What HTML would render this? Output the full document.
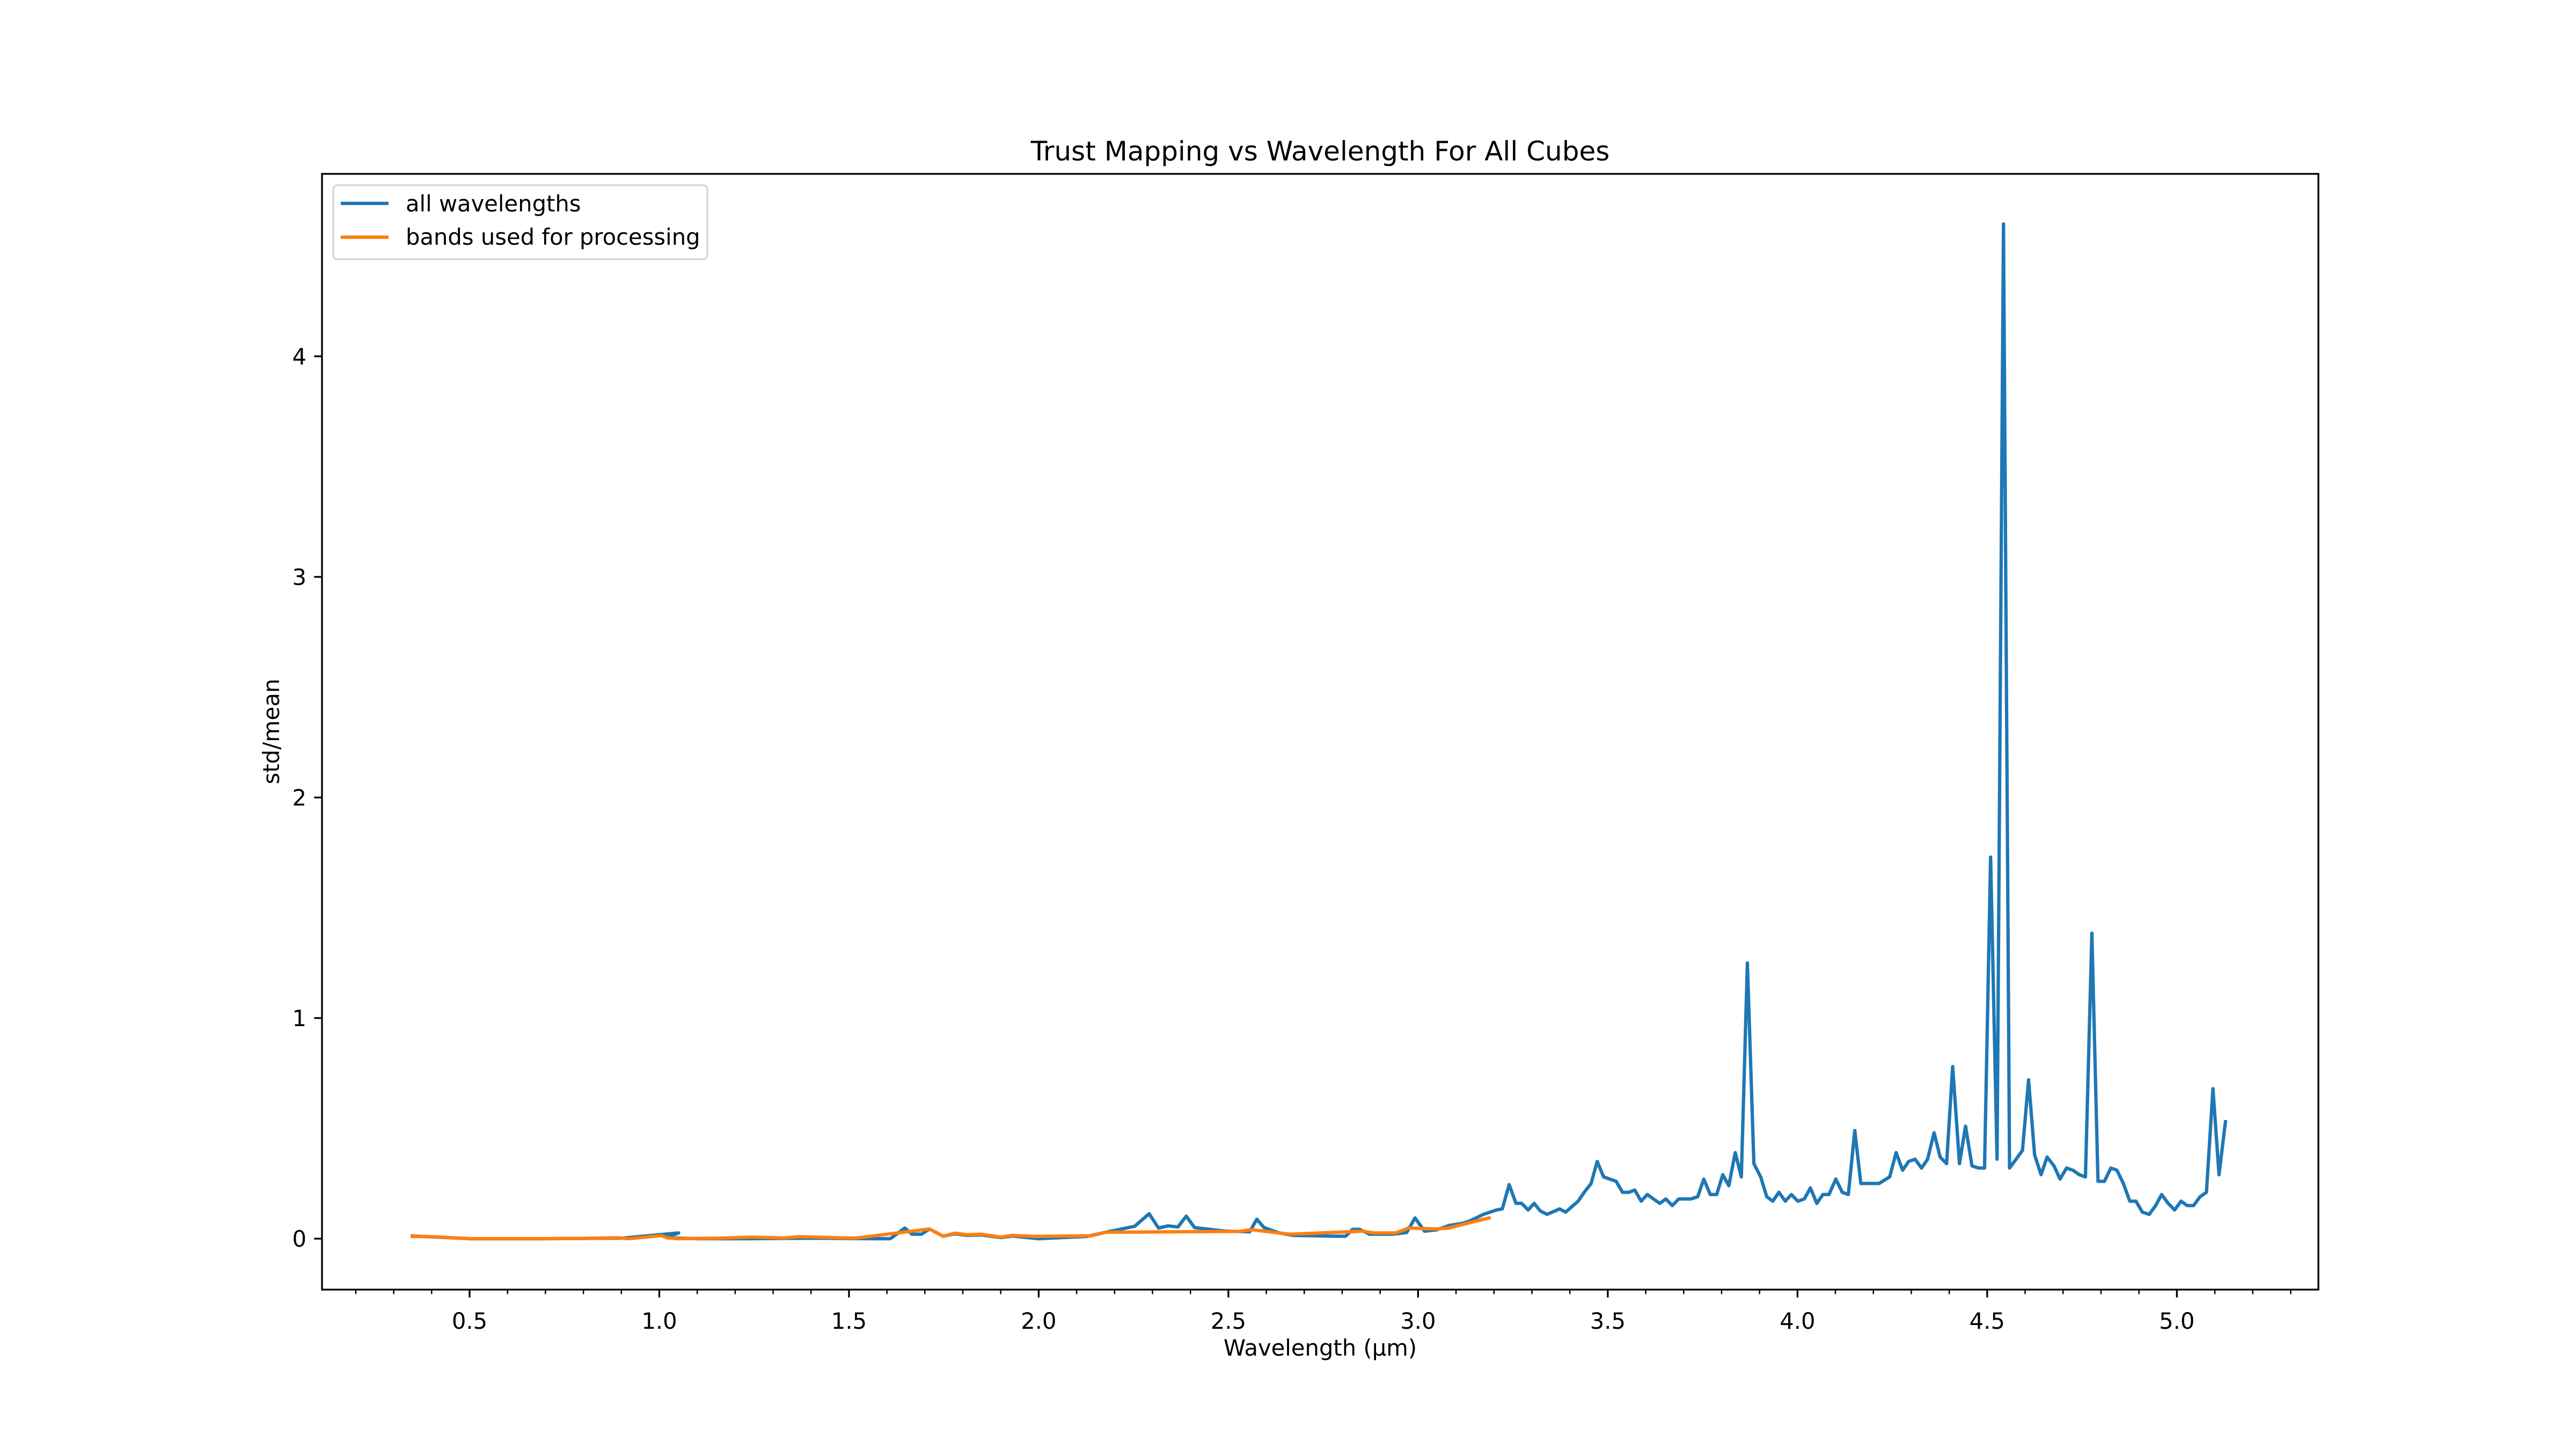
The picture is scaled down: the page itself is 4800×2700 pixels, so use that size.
<!DOCTYPE html>
<html>
<head>
<meta charset="utf-8">
<style>
html,body{margin:0;padding:0;background:#fff;}
svg{display:block;}
text{font-family:"DejaVu Sans","Liberation Sans",sans-serif;fill:#000;}
</style>
</head>
<body>
<svg id="chart" width="4800" height="2700" viewBox="0 0 4800 2700" xmlns="http://www.w3.org/2000/svg">
  <rect x="0" y="0" width="4800" height="2700" fill="#ffffff"/>
  <text x="2460" y="299" font-size="50" text-anchor="middle">Trust Mapping vs Wavelength For All Cubes</text>
  <g id="ticks"></g>
  <g id="series"></g>
  <rect x="600" y="324" width="3720" height="2079" fill="none" stroke="#000" stroke-width="3.3"/>
  <text x="2460" y="2526" font-size="41.7" text-anchor="middle">Wavelength (μm)</text>
  <text x="520" y="1363" font-size="41.7" text-anchor="middle" transform="rotate(-90 520 1363)">std/mean</text>
  <g>
    <rect x="621" y="345" width="697" height="138" rx="8" fill="#fff" fill-opacity="0.8" stroke="#d6d6d6" stroke-width="3.3"/>
    <line x1="635" y1="379" x2="724" y2="379" stroke="#1f77b4" stroke-width="6.25"/>
    <text x="756" y="394" font-size="41.7">all wavelengths</text>
    <line x1="635" y1="442" x2="724" y2="442" stroke="#ff7f0e" stroke-width="6.25"/>
    <text x="756" y="456" font-size="41.7">bands used for processing</text>
  </g>
</svg>
<script>
const xMajorTicks = [0.5,1.0,1.5,2.0,2.5,3.0,3.5,4.0,4.5,5.0];
const xMajorLabels = ["0.5","1.0","1.5","2.0","2.5","3.0","3.5","4.0","4.5","5.0"];
const yTicks = [0,1,2,3,4];
const yTickLabels = ["0","1","2","3","4"];

const blueWavelengths = [0.349,0.40,0.45,0.501,0.60,0.70,0.80,0.90,1.051,1.02,1.10,1.243,1.40,1.55,1.609,1.647,1.666,1.691,1.712,1.748,1.779,1.811,1.849,1.90,1.931,2.00,2.127,2.177,2.253,2.291,2.316,2.341,2.367,2.389,2.411,2.493,2.556,2.575,2.594,2.632,2.67,2.783,2.809,2.827,2.846,2.872,2.935,2.97,2.992,3.017,3.049,
3.082,3.118,3.136,3.172,3.207,3.222,3.240,3.258,3.273,3.290,3.306,3.322,3.340,3.373,3.389,3.406,3.422,3.438,3.456,3.472,3.489,3.522,3.539,3.555,3.571,3.588,3.604,3.637,3.653,3.670,3.687,3.719,3.737,3.753,3.770,3.787,3.803,3.819,3.836,3.852,3.868,3.885,3.903,3.919,3.935,3.951,3.968,3.984,4.001,4.018,4.034,4.051,4.067,4.083,4.101,4.118,4.134,4.151,4.167,4.183,4.199,
4.215,4.243,4.260,4.277,4.293,4.310,4.327,4.343,4.360,4.376,4.393,4.409,4.427,4.443,4.460,4.477,4.493,4.509,4.526,4.543,4.559,4.576,4.593,4.609,4.625,4.642,4.658,4.676,4.692,4.709,4.726,4.743,4.759,4.776,4.792,4.809,4.826,4.842,4.859,4.876,4.892,4.909,4.927,4.944,4.960,4.977,4.994,5.011,5.027,5.044,5.061,5.078,5.095,5.111,5.128];
const blueValues = [0.012,0.008,0.004,0.0,0.0,0.0,0.001,0.002,0.026,0.004,0.0,0.0,0.002,0.0,0.0,0.048,0.02,0.02,0.044,0.011,0.022,0.015,0.017,0.005,0.012,0.0,0.01,0.029,0.056,0.113,0.048,0.058,0.053,0.102,0.05,0.034,0.031,0.088,0.05,0.027,0.015,0.011,0.011,0.042,0.042,0.02,0.02,0.028,0.094,0.034,0.04,
0.06,0.07,0.08,0.11,0.13,0.135,0.245,0.16,0.16,0.13,0.16,0.126,0.11,0.135,0.12,0.146,0.17,0.21,0.25,0.35,0.28,0.26,0.21,0.21,0.22,0.17,0.2,0.16,0.18,0.15,0.18,0.18,0.19,0.27,0.2,0.2,0.29,0.24,0.39,0.28,1.25,0.34,0.28,0.19,0.17,0.21,0.17,0.2,0.17,0.18,0.23,0.16,0.2,0.2,0.27,0.21,0.2,0.49,0.25,0.25,0.25,
0.25,0.28,0.39,0.31,0.35,0.36,0.32,0.36,0.48,0.37,0.34,0.78,0.34,0.51,0.33,0.32,0.32,1.73,0.36,4.6,0.32,0.36,0.40,0.72,0.38,0.29,0.37,0.33,0.27,0.32,0.31,0.29,0.28,1.385,0.26,0.26,0.32,0.31,0.25,0.17,0.17,0.12,0.11,0.15,0.20,0.16,0.13,0.17,0.15,0.15,0.19,0.21,0.68,0.29,0.53];

const orangeWavelengths = [0.349,0.40,0.45,0.501,0.60,0.70,0.80,0.889,0.92,1.006,1.02,1.05,1.15,1.243,1.331,1.369,1.495,1.520,1.712,1.748,1.779,1.811,1.849,1.90,1.931,1.988,2.139,2.177,2.531,2.560,2.632,2.663,2.853,2.884,2.941,2.975,3.049,3.08,3.187];
const orangeValues = [0.01,0.009,0.004,0.0,0.0,0.0,0.001,0.004,0.0,0.014,0.004,0.0,0.002,0.007,0.003,0.009,0.003,0.003,0.044,0.011,0.025,0.018,0.02,0.007,0.015,0.01,0.013,0.029,0.033,0.041,0.026,0.02,0.034,0.026,0.026,0.048,0.044,0.048,0.094];

const X0=600, X1=4320, Y0=324, Y1=2403;
const XMIN=0.111, XMAX=5.373, YMIN=-0.231, YMAX=4.827;
function xScale(v){return X0+(v-XMIN)/(XMAX-XMIN)*(X1-X0);}
function yScale(v){return Y0+(YMAX-v)/(YMAX-YMIN)*(Y1-Y0);}
const NS="http://www.w3.org/2000/svg";
const ticks=document.getElementById('ticks');
const series=document.getElementById('series');

function mk(tag, attrs){const e=document.createElementNS(NS,tag);for(const k in attrs)e.setAttribute(k,attrs[k]);return e;}

for(let m=2;m<=53;m++){
  const v=m/10;
  if(m%5===0) continue;
  const x=xScale(v);
  const t=mk('line',{x1:x,y1:Y1,x2:x,y2:Y1+8.3,stroke:'#000','stroke-width':2.5});
  
  
  ticks.appendChild(t);
}
xMajorTicks.forEach((v,i)=>{
  const x=xScale(v);
  const t=mk('line',{x1:x,y1:Y1,x2:x,y2:Y1+14.6,stroke:'#000','stroke-width':3.3});
  
  
  ticks.appendChild(t);
  const l=mk('text',{x:x,y:2476,'font-size':41.7,'text-anchor':'middle'});
  l.textContent=xMajorLabels[i];
  
  
  ticks.appendChild(l);
});
yTicks.forEach((v,i)=>{
  const y=yScale(v);
  const t=mk('line',{x1:X0-14.6,y1:y,x2:X0,y2:y,stroke:'#000','stroke-width':3.3});
  
  
  ticks.appendChild(t);
  const l=mk('text',{x:571,y:y+15,'font-size':41.7,'text-anchor':'end'});
  l.textContent=yTickLabels[i];
  
  
  ticks.appendChild(l);
});

function drawLine(xs, ys, color){
  const n=Math.min(xs.length, ys.length);
  const pts=[];
  for(let i=0;i<n;i++) pts.push(xScale(xs[i]).toFixed(1)+','+yScale(ys[i]).toFixed(1));
  return mk('polyline',{points:pts.join(' '),fill:'none',stroke:color,'stroke-width':6.25,'stroke-linejoin':'round','stroke-linecap':'square'});
}
const blue=drawLine(blueWavelengths,blueValues,'#1f77b4');


series.appendChild(blue);
const orange=drawLine(orangeWavelengths,orangeValues,'#ff7f0e');


series.appendChild(orange);
</script>
</body>
</html>
